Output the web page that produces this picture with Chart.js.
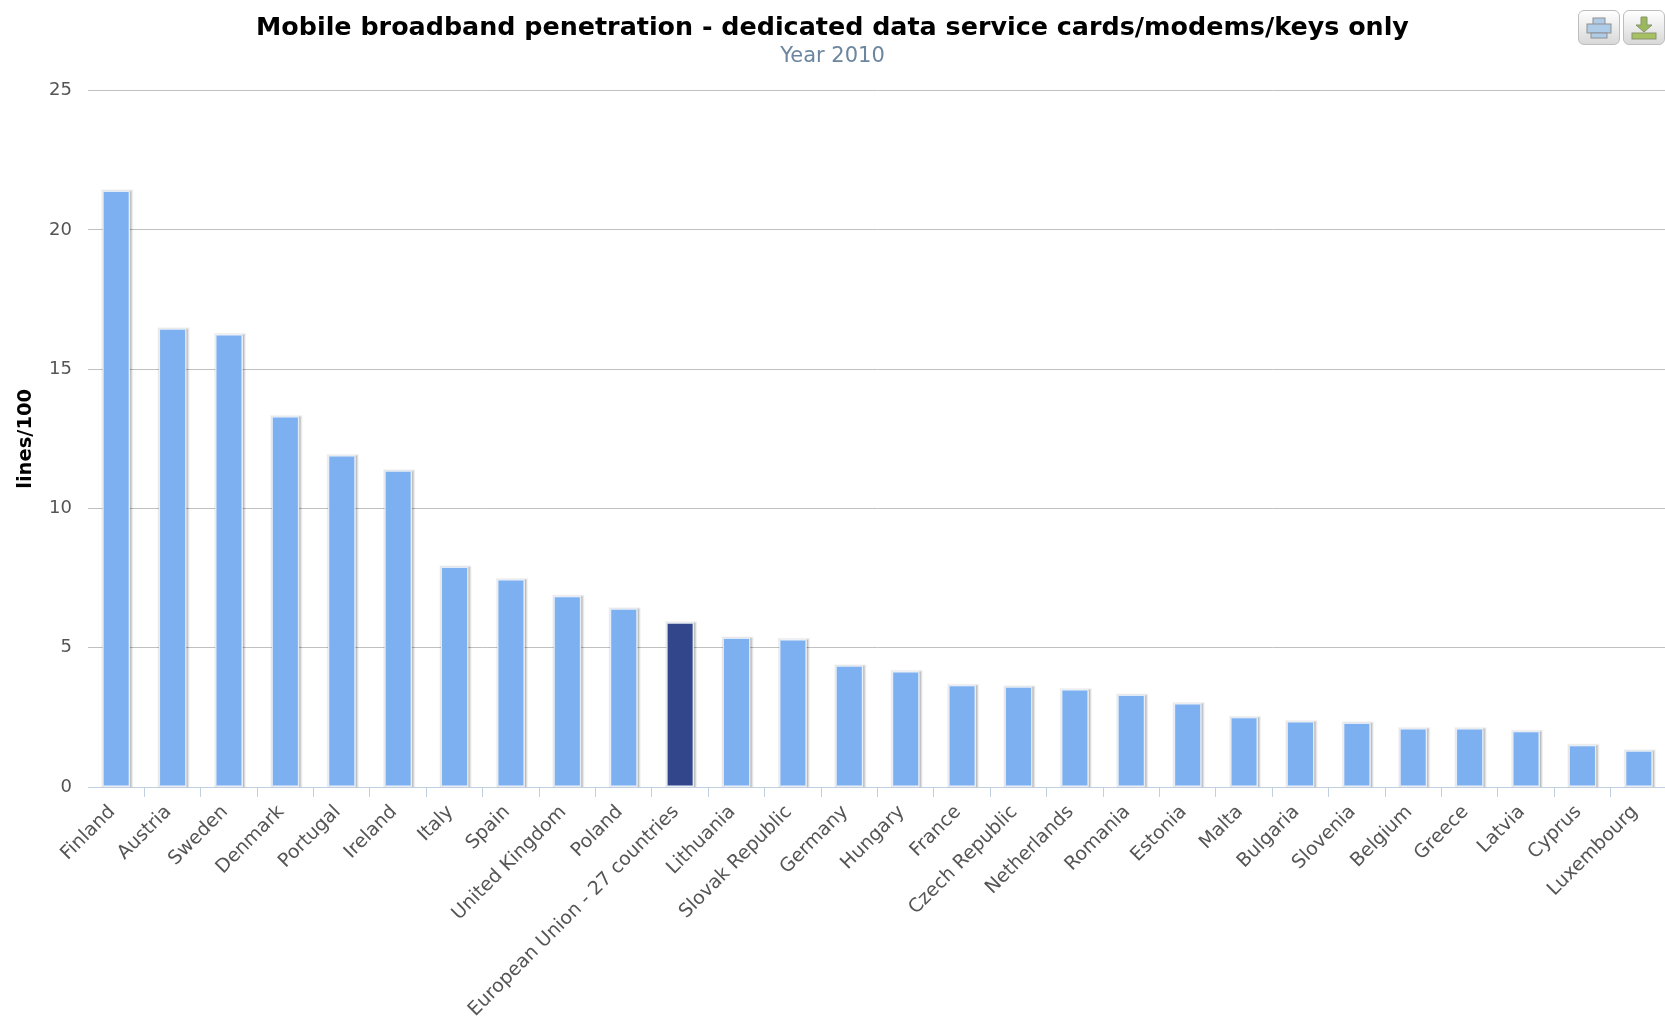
<!DOCTYPE html>
<html>
<head>
<meta charset="utf-8">
<title>Mobile broadband penetration</title>
<script src="https://cdn.jsdelivr.net/npm/chart.js@4"></script>
<style>
  html, body { margin: 0; padding: 0; background: #fff; overflow: hidden; }
  #wrap { position: relative; width: 1665px; height: 1017px; overflow: hidden; }
  #chart { position: absolute; left: -2px; top: 0; }
  .btn {
    position: absolute; top: 10px; width: 40px; height: 33px;
    border: 1px solid #bdbdbd; border-radius: 6px;
    background: linear-gradient(#fff, #d8d8d8);
  }
  .btn svg { display: block; width: 40px; height: 33px; }
</style>
</head>
<body>
<div id="wrap">
  <canvas id="chart" width="1669" height="1017"></canvas>
  <div class="btn" style="left:1578px">
    <svg viewBox="0 0 40 33">
      <rect x="14" y="7" width="12" height="7" fill="#aecbe8" stroke="#8f8f8f"/>
      <rect x="8" y="13" width="24" height="9" fill="#aecbe8" stroke="#8f8f8f"/>
      <rect x="12" y="22" width="16" height="5" fill="#aecbe8" stroke="#8f8f8f"/>
    </svg>
  </div>
  <div class="btn" style="left:1623px">
    <svg viewBox="0 0 40 33">
      <path d="M17 6h6v8h5l-8 7-8-7h5z" fill="#9cb85c" stroke="#87946d"/>
      <rect x="8" y="22" width="24" height="6" fill="#a6c062" stroke="#87946d"/>
    </svg>
  </div>
</div>
<script>
const categories = ['Finland', 'Austria', 'Sweden', 'Denmark', 'Portugal', 'Ireland', 'Italy', 'Spain',
  'United Kingdom', 'Poland', 'European Union - 27 countries', 'Lithuania', 'Slovak Republic', 'Germany',
  'Hungary', 'France', 'Czech Republic', 'Netherlands', 'Romania', 'Estonia', 'Malta', 'Bulgaria',
  'Slovenia', 'Belgium', 'Greece', 'Latvia', 'Cyprus', 'Luxembourg'];
const values = [21.4, 16.45, 16.25, 13.3, 11.9, 11.35, 7.9, 7.45, 6.85, 6.4, 5.9, 5.35, 5.3, 4.35,
  4.15, 3.65, 3.6, 3.5, 3.3, 3.0, 2.5, 2.35, 2.3, 2.1, 2.1, 2.0, 1.5, 1.3];
const highlighted = 'European Union - 27 countries';

const fontFamily = '"DejaVu Sans", sans-serif';

// stacked translucent strokes behind each column, then a white backing
const barShadow = {
  id: 'barShadow',
  beforeDatasetsDraw(chart) {
    const ctx = chart.ctx;
    const area = chart.chartArea;
    ctx.save();
    ctx.beginPath();
    ctx.rect(area.left, area.top - 5, area.right - area.left, area.bottom - area.top + 5);
    ctx.clip();
    chart.getDatasetMeta(0).data.forEach(bar => {
      const { x, y, base, width } = bar.getProps(['x', 'y', 'base', 'width']);
      [[5, 0.05], [3, 0.1], [1, 0.15]].forEach(([lineWidth, alpha]) => {
        ctx.lineWidth = lineWidth;
        ctx.strokeStyle = `rgba(0,0,0,${alpha})`;
        ctx.strokeRect(x - width / 2 + 1, y + 1, width, base - y);
      });
      ctx.fillStyle = '#fff';
      ctx.fillRect(x - width / 2, y, width, base - y);
    });
    ctx.restore();
  }
};

new Chart(document.getElementById('chart'), {
  type: 'bar',
  data: {
    labels: categories,
    datasets: [{
      data: values,
      backgroundColor: categories.map(c => c === highlighted ? '#32468c' : '#7cb0f0'),
      borderColor: '#dfeafa',
      borderWidth: 1,
      borderSkipped: false,
      barPercentage: 0.48,
      categoryPercentage: 1
    }]
  },
  plugins: [barShadow],
  options: {
    responsive: false,
    animation: false,
    layout: { padding: { top: 13, left: 0, right: 0, bottom: 0 } },
    plugins: {
      legend: { display: false },
      tooltip: { enabled: false },
      title: {
        display: true,
        text: 'Mobile broadband penetration - dedicated data service cards/modems/keys only',
        color: '#000',
        font: { family: fontFamily, size: 25.4, weight: 'bold' },
        padding: { top: 0, bottom: 0 }
      },
      subtitle: {
        display: true,
        text: 'Year 2010',
        color: '#6d869f',
        font: { family: fontFamily, size: 21 },
        padding: { top: 0, bottom: 22 }
      }
    },
    scales: {
      x: {
        grid: {
          drawOnChartArea: false,
          tickLength: 10,
          tickColor: c => c.index === 0 ? 'rgba(0,0,0,0)' : '#c0d0e0'
        },
        border: { color: '#c0d0e0', width: 1 },
        ticks: {
          autoSkip: false,
          minRotation: 45,
          maxRotation: 45,
          labelOffset: -4,
          color: '#555',
          padding: 4,
          font: { family: fontFamily, size: 19 }
        },
        afterFit(scale) {
          scale.height = 230;
          scale.paddingLeft = 0;
          scale.paddingRight = 0;
        }
      },
      y: {
        min: 0,
        max: 25,
        grid: { color: '#c0c0c0', lineWidth: 1, drawTicks: false },
        border: { display: false },
        ticks: {
          stepSize: 5,
          color: '#555',
          padding: 16,
          font: { family: fontFamily, size: 18 }
        },
        title: {
          display: true,
          text: 'lines/100',
          color: '#000',
          font: { family: fontFamily, size: 19.5, weight: 'bold' },
          padding: { top: 16, bottom: 0 }
        },
        afterFit(scale) {
          scale.width = 90;
        }
      }
    }
  }
});
</script>
</body>
</html>
